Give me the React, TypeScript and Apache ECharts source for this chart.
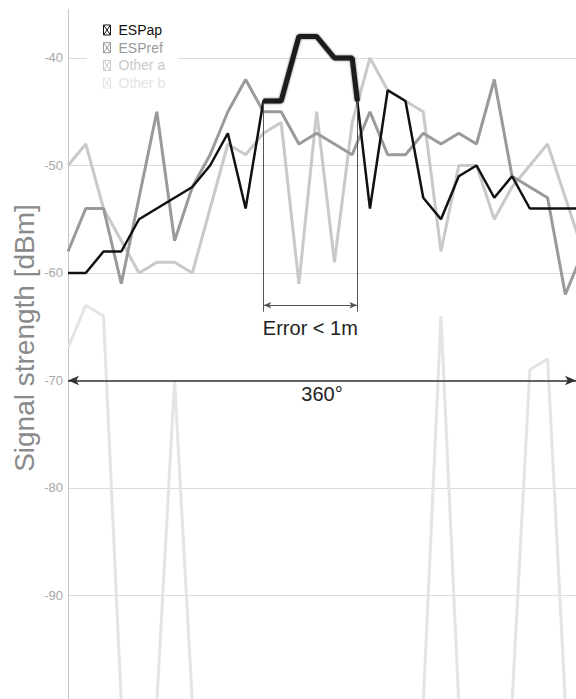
import React, { useEffect, useRef } from "react";
import * as echarts from "echarts";

// Measurement index (0..29) around the 360° sweep
const espAp = [-60, -60, -58, -58, -55, -54, -53, -52, -50, -47, -54, -44, -44, -38, -38, -40, -40, -54, -43, -44, -53, -55, -51, -50, -53, -51, -54, -54, -54, -54];
const espRef = [-58, -54, -54, -61, -53, -45, -57, -52, -49, -45, -42, -45, -45, -48, -47, -48, -49, -45, -49, -49, -47, -48, -47, -48, -42, -51, -52, -53, -62, -58];
const otherA = [-50, -48, -54, -57, -60, -59, -59, -60, -54, -48, -49, -47, -46, -61, -45, -59, -46, -40, -43, -44, -45, -58, -50, -50, -55, -52, -50, -48, -53, -58];
const otherB = [-67, -63, -64, -100, -100, -100, -70, -100, -100, -100, -100, -100, -100, -100, -100, -100, -100, -100, -100, -100, -100, -64, -100, -100, -100, -100, -69, -68, -100, -100];

// Highlighted ESPap window (error < 1m)
const highlightX = [11, 12, 13, 14, 15, 16, 16.29];
const highlightY = [-44, -44, -38, -38, -40, -40, -44];

const seriesNames = ["ESPap", "ESPref", "Other a", "Other b"];
const seriesColors = ["#111111", "#9a9a9a", "#c9c9c9", "#e4e4e4"];
const yTicks = { min: -100, max: -35.5, interval: 10 };
const xRange = { min: 0, max: 28.6 };
const errorBracket = { x0: 11, x1: 16.29, yTop: -44, yBottom: -63.6, yArrow: -63 };
const fullSweepY = -70;

const FONT = "'Liberation Sans', Arial, Helvetica, sans-serif";

const toPairs = (vals: number[]) => vals.map((v, i) => [i, v]);

export default function App() {
  const ref = useRef<HTMLDivElement>(null);
  useEffect(() => {
    if (!ref.current) return;
    const chart = echarts.init(ref.current, null, { renderer: "svg" });
    const boxIcon = "path://M0,0L7,0L7,10L0,10Z M0,0L7,10 M7,0L0,10";
    chart.setOption({
      animation: false,
      backgroundColor: "#ffffff",
      textStyle: { fontFamily: FONT },
      grid: { left: 68, right: 0, top: 9.6, bottom: 9 },
      xAxis: {
        type: "value",
        min: xRange.min,
        max: xRange.max,
        axisLine: { show: false },
        axisTick: { show: false },
        axisLabel: { show: false },
        splitLine: { show: false },
      },
      yAxis: {
        type: "value",
        min: yTicks.min,
        max: yTicks.max,
        interval: yTicks.interval,
        axisLine: { show: true, lineStyle: { color: "#c4c4c4", width: 1 } },
        axisTick: { show: false },
        axisLabel: {
          color: "#a8a8a8",
          fontSize: 13,
          fontFamily: FONT,
          margin: 5,
          showMaxLabel: false,
          showMinLabel: false,
        },
        splitLine: {
          show: true,
          showMaxLine: false,
          lineStyle: { color: "#dcdcdc", width: 1 },
        },
      },
      legend: {
        orient: "vertical",
        left: 87,
        top: 13,
        padding: [10, 13, 6, 16],
        backgroundColor: "#ffffff",
        selectedMode: false,
        itemWidth: 7,
        itemHeight: 10,
        itemGap: 3.7,
        icon: boxIcon,
        textStyle: { fontSize: 14, lineHeight: 14, fontFamily: FONT, padding: [0, 0, 0, 3] },
        data: seriesNames.map((n, i) => ({
          name: n,
          icon: boxIcon,
          itemStyle: { color: "transparent", borderColor: seriesColors[i], borderWidth: 1 },
          textStyle: { color: seriesColors[i], fontSize: 14, lineHeight: 14, fontFamily: FONT, padding: [0, 0, 0, 3] },
        })),
      },
      graphic: [
        {
          type: "text",
          x: 24,
          y: 338,
          rotation: Math.PI / 2,
          style: {
            text: "Signal strength [dBm]",
            fontSize: 28,
            fontFamily: FONT,
            fill: "#8a8a8a",
            align: "center",
            verticalAlign: "middle",
          },
        },
      ],
      series: [
        {
          name: seriesNames[3],
          type: "line",
          data: toPairs(otherB),
          symbol: "none",
          lineStyle: { color: seriesColors[3], width: 3 },
          itemStyle: { color: seriesColors[3] },
          z: 1,
        },
        {
          name: seriesNames[2],
          type: "line",
          data: toPairs(otherA),
          symbol: "none",
          lineStyle: { color: seriesColors[2], width: 3 },
          itemStyle: { color: seriesColors[2] },
          z: 2,
        },
        {
          name: seriesNames[1],
          type: "line",
          data: toPairs(espRef),
          symbol: "none",
          lineStyle: { color: seriesColors[1], width: 3 },
          itemStyle: { color: seriesColors[1] },
          z: 3,
        },
        {
          name: seriesNames[0],
          type: "line",
          data: toPairs(espAp),
          symbol: "none",
          lineStyle: { color: seriesColors[0], width: 2.5 },
          itemStyle: { color: seriesColors[0] },
          z: 4,
        },
        {
          name: seriesNames[0],
          type: "line",
          data: highlightX.map((x, i) => [x, highlightY[i]]),
          symbol: "none",
          lineStyle: { color: "#1a1a1a", width: 5, shadowColor: "rgba(0,0,0,0.6)", shadowBlur: 2 },
          itemStyle: { color: seriesColors[0] },
          z: 5,
          markLine: {
            silent: true,
            animation: false,
            symbol: ["none", "none"],
            data: [
              [
                { coord: [errorBracket.x0, errorBracket.yTop], lineStyle: { color: "#555", width: 1, type: "solid" }, label: { show: false } },
                { coord: [errorBracket.x0, errorBracket.yBottom] },
              ],
              [
                { coord: [errorBracket.x1, errorBracket.yTop], lineStyle: { color: "#555", width: 1, type: "solid" }, label: { show: false } },
                { coord: [errorBracket.x1, errorBracket.yBottom] },
              ],
              [
                {
                  coord: [errorBracket.x0, errorBracket.yArrow],
                  symbol: "arrow",
                  symbolSize: [5, 8],
                  lineStyle: { color: "#555", width: 1, type: "solid" },
                  label: {
                    show: true,
                    formatter: "Error < 1m",
                    position: "insideMiddleBottom",
                    distance: 13,
                    color: "#222",
                    fontSize: 20,
                    fontFamily: FONT,
                  },
                },
                { coord: [errorBracket.x1, errorBracket.yArrow], symbol: "arrow", symbolSize: [5, 8] },
              ],
              [
                {
                  coord: [xRange.min, fullSweepY],
                  symbol: "arrow",
                  symbolSize: [7, 11],
                  lineStyle: { color: "#333", width: 1.5, type: "solid" },
                  label: {
                    show: true,
                    formatter: "360°",
                    position: "insideMiddleBottom",
                    distance: 4,
                    color: "#222",
                    fontSize: 20,
                    fontFamily: FONT,
                  },
                },
                { coord: [xRange.max, fullSweepY], symbol: "arrow", symbolSize: [7, 11] },
              ],
            ],
          },
        },
      ],
    });
    return () => chart.dispose();
  }, []);
  return (
    <div style={{ position: "fixed", left: 0, top: 0, width: 576, height: 699, overflow: "hidden", background: "#fff" }}>
      <div ref={ref} style={{ width: 576, height: 712 }} />
    </div>
  );
}
